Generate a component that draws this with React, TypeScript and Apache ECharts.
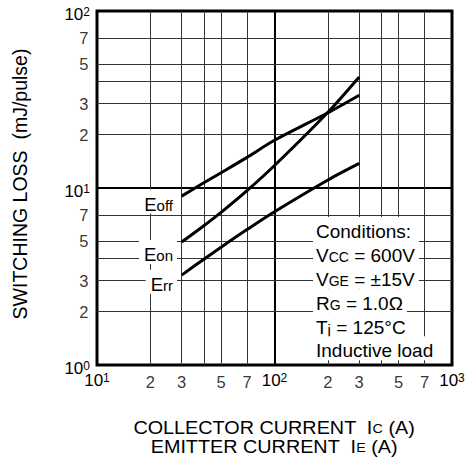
import React, { useEffect, useRef } from 'react';
import * as echarts from 'echarts';

const FONT = '"Liberation Sans", Arial, Helvetica, sans-serif';

// Collector current (A) sample points
const currentA = [30, 40, 50, 70, 100, 200, 300];
// Switching losses (mJ/pulse)
const eoff = [9.0, 10.7, 12.2, 14.9, 18.6, 26.6, 33.4];
const eon = [4.95, 6.12, 7.28, 9.66, 13.4, 26.8, 42.4];
const err = [3.22, 3.96, 4.63, 5.82, 7.34, 11.1, 13.77];

// Minor grid lines and labelled minor ticks
const xMinorGrid = [20, 30, 40, 50, 70, 200, 300, 400, 500, 700];
const yMinorGrid = [2, 3, 4, 5, 7, 20, 30, 40, 50, 70];
const xMinorTickLabels = [20, 30, 50, 70, 200, 300, 500, 700];
const yMinorTickLabels = [2, 3, 5, 7, 20, 30, 50, 70];

const curveNames = ['Eoff', 'Eon', 'Err'];
const curveLabels = ['{E|E}{s|off}', '{E|E}{s|on}', '{E|E}{s|rr}'];

const conditionLines = [
  '{n|Conditions:}',
  '{n|V}{s|CC}{n| = 600V}',
  '{n|V}{s|GE}{n| = ±15V}',
  '{n|R}{s|G}{n| = 1.0Ω}',
  '{n|T}{j|j}{n| = 125°C}',
  '{n|Inductive load}',
];

const xTitleLines = [
  '{n|COLLECTOR CURRENT  I}{s|C}{n| (A)}',
  '{n|EMITTER CURRENT  I}{s|E}{n| (A)}',
];
const yTitle = 'SWITCHING LOSS  (mJ/pulse)';

const mantissa = (v: number) => String(Math.round(v / Math.pow(10, Math.floor(Math.log10(v) + 1e-9))));
const decadeLabel = (v: number) => `{b|10}{s|${Math.round(Math.log10(v))}}`;

const decadeRich = {
  b: { fontSize: 17, lineHeight: 17, fontFamily: FONT, color: '#000' },
  s: { fontSize: 12, lineHeight: 10, verticalAlign: 'top', fontFamily: FONT, color: '#000' },
};

function buildOption() {
  const curves = [eoff, eon, err];
  const series: any[] = [
    {
      type: 'line',
      name: 'grid',
      data: [[10, 1]],
      showSymbol: false,
      lineStyle: { width: 0, opacity: 0 },
      silent: true,
      z: 1,
      markLine: {
        silent: true,
        symbol: ['none', 'none'],
        label: { show: false },
        lineStyle: { color: '#333', width: 1, type: 'solid' },
        emphasis: { disabled: true },
        data: [
          ...xMinorGrid.map((v) => ({ xAxis: v })),
          ...yMinorGrid.map((v) => ({ yAxis: v })),
        ],
      },
    },
    ...curves.map((c, i) => ({
      type: 'line',
      name: curveNames[i],
      data: currentA.map((x, j) => [x, c[j]]),
      showSymbol: false,
      smooth: 0.3,
      lineStyle: { color: '#000', width: 3 },
      itemStyle: { color: '#000' },
      silent: true,
      z: 5,
    })),
    {
      type: 'scatter',
      data: xMinorTickLabels.map((v) => [v, 1]),
      symbolSize: 1,
      itemStyle: { color: 'rgba(0,0,0,0)' },
      clip: false,
      silent: true,
      z: 6,
      label: {
        show: true,
        position: 'bottom',
        distance: 8,
        formatter: (p: any) => mantissa(p.value[0]),
        fontSize: 16.5,
        lineHeight: 16,
        fontFamily: FONT,
        color: '#000',
      },
    },
    {
      type: 'scatter',
      data: yMinorTickLabels.map((v) => [10, v]),
      symbolSize: 1,
      itemStyle: { color: 'rgba(0,0,0,0)' },
      clip: false,
      silent: true,
      z: 6,
      label: {
        show: true,
        position: 'left',
        distance: 8,
        formatter: (p: any) => mantissa(p.value[1]),
        fontSize: 16.5,
        lineHeight: 16,
        fontFamily: FONT,
        color: '#000',
      },
    },
  ];

  const labelY = [201.6, 251.9, 281.9];
  const graphics: any[] = [];
  curveLabels.forEach((t, i) => {
    graphics.push({
      type: 'text',
      x: 177,
      y: labelY[i],
      z: 50,
      silent: true,
      style: {
        text: t,
        align: 'right',
        verticalAlign: 'middle',
        backgroundColor: '#fff',
        padding: [0, 4, 0, 5],
        rich: {
          E: { fontSize: 18.5, lineHeight: 24, verticalAlign: 'bottom', fontFamily: FONT, fill: '#000' },
          s: { fontSize: 15, lineHeight: 24, verticalAlign: 'bottom', padding: [0, 0, 1, 0], fontFamily: FONT, fill: '#000' },
        },
      },
    });
  });
  conditionLines.forEach((t, i) => {
    graphics.push({
      type: 'text',
      x: 313,
      y: 229.1 + i * 23.85,
      z: 50,
      silent: true,
      style: {
        text: t,
        align: 'left',
        verticalAlign: 'middle',
        backgroundColor: '#fff',
        padding: [0, 4, 0, 3],
        rich: {
          n: { fontSize: 19, lineHeight: 24, verticalAlign: 'bottom', fontFamily: FONT, fill: '#000' },
          s: { fontSize: 14, lineHeight: 24, verticalAlign: 'bottom', padding: [0, 0, 1, 0], fontFamily: FONT, fill: '#000' },
          j: { fontSize: 15, lineHeight: 24, verticalAlign: 'bottom', fontFamily: FONT, fill: '#000' },
        },
      },
    });
  });
  xTitleLines.forEach((t, i) => {
    graphics.push({
      type: 'text',
      x: 274,
      y: 425.5 + i * 19,
      scaleX: 1.1,
      z: 50,
      silent: true,
      style: {
        text: t,
        align: 'center',
        verticalAlign: 'middle',
        rich: {
          n: { fontSize: 18, lineHeight: 22, verticalAlign: 'bottom', fontFamily: FONT, fill: '#000' },
          s: { fontSize: 13, lineHeight: 22, verticalAlign: 'bottom', padding: [0, 0, 1, 0], fontFamily: FONT, fill: '#000' },
        },
      },
    });
  });
  graphics.push({
    type: 'text',
    x: 20,
    y: 184,
    rotation: Math.PI / 2,
    z: 50,
    silent: true,
    style: {
      text: yTitle,
      align: 'center',
      verticalAlign: 'middle',
      fontSize: 19.5,
      fontFamily: FONT,
      fill: '#000',
    },
  });

  return {
    animation: false,
    backgroundColor: '#fff',
    grid: {
      left: 97,
      right: 19,
      top: 11,
      bottom: 97,
      show: true,
      borderColor: '#000',
      borderWidth: 3,
      backgroundColor: 'transparent',
    },
    xAxis: {
      type: 'log',
      logBase: 10,
      min: 10,
      max: 1000,
      axisLine: { show: false },
      axisTick: { show: false },
      splitLine: { show: true, lineStyle: { color: '#000', width: 2 } },
      axisLabel: {
        margin: 7,
        interval: 0,
        showMinLabel: true,
        showMaxLabel: true,
        formatter: decadeLabel,
        rich: decadeRich,
      },
    },
    yAxis: {
      type: 'log',
      logBase: 10,
      min: 1,
      max: 100,
      axisLine: { show: false },
      axisTick: { show: false },
      splitLine: { show: true, lineStyle: { color: '#000', width: 2 } },
      axisLabel: {
        margin: 7,
        interval: 0,
        showMinLabel: true,
        showMaxLabel: true,
        padding: [6, 0, 0, 0],
        formatter: decadeLabel,
        rich: decadeRich,
      },
    },
    series,
    graphic: { elements: graphics },
  };
}

export default function App() {
  const ref = useRef<HTMLDivElement>(null);
  useEffect(() => {
    document.body.style.margin = '0';
    const chart = echarts.init(ref.current!, null, { renderer: 'svg' });
    chart.setOption(buildOption() as any);
    return () => {
      chart.dispose();
    };
  }, []);
  return <div ref={ref} style={{ width: 471, height: 462 }} />;
}
